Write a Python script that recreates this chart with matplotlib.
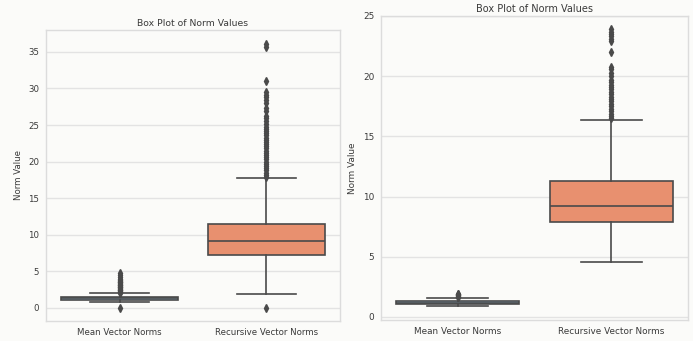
import matplotlib
matplotlib.use("Agg")
import matplotlib.pyplot as plt

# ---- data ----
categories = ["Mean Vector Norms", "Recursive Vector Norms"]

# left panel
left_whislo = [0.75, 1.9]
left_q1 = [1.1, 7.2]
left_med = [1.3, 9.2]
left_q3 = [1.5, 11.5]
left_whishi = [2.05, 17.8]
left_fliers_mean = [0.0, 2.1, 2.2, 2.3, 2.4, 2.5, 2.6, 2.7, 2.8, 2.9, 3.0,
                    3.1, 3.2, 3.3, 3.4, 3.5, 3.6, 3.7, 3.8, 3.9, 4.3, 4.5, 4.8]
left_fliers_rec = [0.0, 17.9, 18.2, 18.5, 18.8, 19.1, 19.4, 19.7, 20.0, 20.3,
                   20.6, 20.9, 21.2, 21.5, 21.8, 22.1, 22.4, 22.7, 23.0, 23.3,
                   23.6, 23.9, 24.2, 24.5, 24.8, 25.1, 25.5, 25.9, 26.3, 26.9,
                   27.3, 28.0, 28.4, 28.8, 29.1, 29.5, 31.0, 35.7, 36.1]

# right panel
right_whislo = [0.9, 4.6]
right_q1 = [1.05, 7.85]
right_med = [1.2, 9.25]
right_q3 = [1.3, 11.3]
right_whishi = [1.6, 16.4]
right_fliers_mean = [1.65, 1.7, 1.75, 1.8, 1.85, 1.9, 1.95]
right_fliers_rec = [16.5, 16.7, 16.9, 17.1, 17.3, 17.5, 17.7, 17.9, 18.1,
                    18.3, 18.5, 18.7, 18.9, 19.1, 19.3, 19.5, 19.7, 20.0,
                    20.3, 20.6, 20.8, 22.0, 22.9, 23.1, 23.3, 23.5, 23.7, 23.9]

BG = "#fbfbf9"
EDGE = "#4a4a4a"
TEXT = "#3a3a3a"
GRID = "#e3e3e3"
BOX_COLORS = ["#8fb8d8", "#e8906f"]


def make_stats(whislo, q1, med, q3, whishi, fliers):
    stats = []
    for i in range(len(categories)):
        stats.append(dict(whislo=whislo[i], q1=q1[i], med=med[i], q3=q3[i],
                          whishi=whishi[i], fliers=fliers[i], label=categories[i]))
    return stats


def draw_panel(ax, stats, ylim, yticks, fs, title_fs):
    ax.set_facecolor(BG)
    bp = ax.bxp(stats, positions=[0, 1], widths=0.8, patch_artist=True,
                boxprops=dict(edgecolor=EDGE, linewidth=1.2),
                medianprops=dict(color=EDGE, linewidth=1.2),
                whiskerprops=dict(color=EDGE, linewidth=1.2),
                capprops=dict(color=EDGE, linewidth=1.2),
                flierprops=dict(marker="d", markerfacecolor=EDGE,
                                markeredgecolor=EDGE, markersize=4),
                capwidths=0.4)
    for patch, c in zip(bp["boxes"], BOX_COLORS):
        patch.set_facecolor(c)
    ax.set_xlim(-0.5, 1.5)
    ax.set_ylim(*ylim)
    ax.set_yticks(yticks)
    ax.yaxis.grid(True, color=GRID, linewidth=1.0)
    ax.xaxis.grid(False)
    ax.set_axisbelow(True)
    for s in ax.spines.values():
        s.set_color("#dcdcdc")
        s.set_linewidth(1.0)
    ax.tick_params(length=0, labelsize=fs, colors=TEXT, pad=5)
    ax.set_ylabel("Norm Value", fontsize=fs, color=TEXT, labelpad=4)
    ax.set_title("Box Plot of Norm Values", fontsize=title_fs, color=TEXT, pad=3)


fig = plt.figure(figsize=(6.93, 3.41), dpi=100, facecolor=BG)
ax1 = fig.add_axes([0.0664, 0.0587, 0.4242, 0.8534])
ax2 = fig.add_axes([0.5498, 0.0616, 0.443, 0.8915])

draw_panel(ax1, make_stats(left_whislo, left_q1, left_med, left_q3, left_whishi,
                           [left_fliers_mean, left_fliers_rec]),
           (-1.78, 38.0), [0, 5, 10, 15, 20, 25, 30, 35], 6.2, 6.7)
draw_panel(ax2, make_stats(right_whislo, right_q1, right_med, right_q3, right_whishi,
                           [right_fliers_mean, right_fliers_rec]),
           (-0.25, 25.0), [0, 5, 10, 15, 20, 25], 6.4, 7.0)

fig.savefig("out.png", dpi=100, facecolor=BG)
